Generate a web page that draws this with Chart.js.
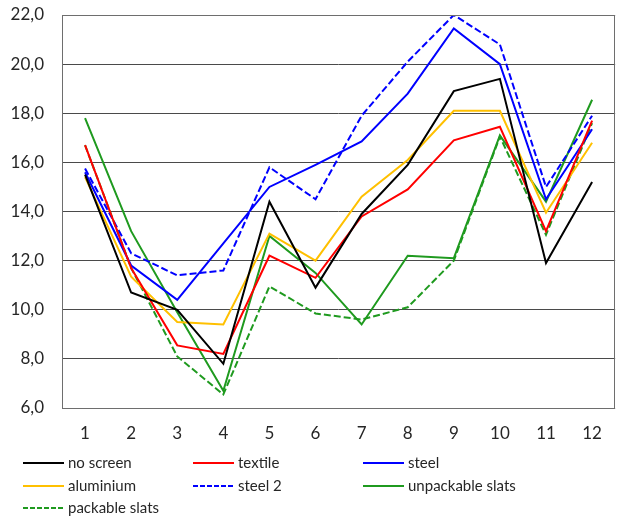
<!DOCTYPE html>
<html lang="en">
<head>
    <meta charset="UTF-8">
    <title>Chart</title>
    <style>
        body {
            margin: 0;
            background: #fff;
        }
        .wrap {
            width: 617px;
            height: 519px;
        }
    </style>
</head>
<body>
    <div class="wrap"><canvas id="myChart" width="617" height="519"></canvas></div>
</body>
<script src="https://cdn.jsdelivr.net/npm/chart.js@4.4.1/dist/chart.umd.min.js"></script>
<script>
// x categories
const labels = ['1', '2', '3', '4', '5', '6', '7', '8', '9', '10', '11', '12'];

// series values
const noScreen   = [15.5, 10.7, 10.0, 7.8, 14.4, 10.9, 13.9, 15.9, 18.9, 19.4, 11.9, 15.2];
const textile    = [16.7, 11.7, 8.55, 8.2, 12.2, 11.3, 13.8, 14.9, 16.9, 17.45, 13.2, 17.7];
const steel      = [15.6, 11.8, 10.4, 12.7, 15.0, 15.9, 16.85, 18.8, 21.45, 20.0, 14.5, 17.35];
const aluminium  = [15.4, 11.35, 9.5, 9.4, 13.1, 12.0, 14.6, 16.1, 18.1, 18.1, 13.95, 16.8];
const steel2     = [15.75, 12.3, 11.4, 11.6, 15.8, 14.5, 17.9, 20.1, 22.0, 20.8, 15.0, 17.9];
const unpackable = [17.8, 13.2, 9.9, 6.7, 13.0, 11.5, 9.4, 12.2, 12.1, 17.1, 14.4, 18.55];
const packable   = [16.7, 11.7, 8.1, 6.55, 10.95, 9.85, 9.6, 10.1, 12.0, 17.05, 13.05, 17.6];

// y axis
const yMin = 6, yMax = 22, yStep = 2;

const FONT = 'Lato, "Open Sans", sans-serif';

function line(label, data, color, dash) {
    return {
        label: label,
        data: data,
        borderColor: color,
        backgroundColor: color,
        borderWidth: 2,
        borderDash: dash || [],
        pointRadius: 0,
        tension: 0,
        fill: false
    };
}

// box round the plot + the 3-column legend at the bottom
const framePlugin = {
    id: 'frame',
    afterDraw(chart) {
        const ctx = chart.ctx;
        const a = chart.chartArea;
        ctx.save();
        ctx.strokeStyle = '#6e6e6e';
        ctx.lineWidth = 1;
        ctx.strokeRect(Math.round(a.left) + 0.5, Math.round(a.top) + 0.5,
            Math.round(a.right - a.left) - 1, Math.round(a.bottom - a.top));

        const colX = [23, 193, 363];
        const rowY = [463, 486, 508];
        ctx.font = '15px ' + FONT;
        ctx.textBaseline = 'middle';
        ctx.fillStyle = '#262626';
        chart.data.datasets.forEach((ds, i) => {
            const x = colX[i % 3], y = rowY[Math.floor(i / 3)];
            ctx.strokeStyle = ds.borderColor;
            ctx.lineWidth = 2;
            ctx.setLineDash(ds.borderDash.length ? [5, 2] : []);
            ctx.beginPath();
            ctx.moveTo(x, y);
            ctx.lineTo(x + 41, y);
            ctx.stroke();
            ctx.setLineDash([]);
            ctx.fillText(ds.label, x + 45, y);
        });
        ctx.restore();
    }
};

const ctx = document.getElementById('myChart').getContext('2d');
const myChart = new Chart(ctx, {
    type: 'line',
    data: {
        labels: labels,
        datasets: [
            line('no screen', noScreen, '#000000'),
            line('textile', textile, '#ff0000'),
            line('steel', steel, '#0000ff'),
            line('aluminium', aluminium, '#ffc000'),
            line('steel 2', steel2, '#0000ff', [7, 3]),
            line('unpackable slats', unpackable, '#1f9a1f'),
            line('packable slats', packable, '#1f9a1f', [7, 3])
        ]
    },
    options: {
        responsive: false,
        animation: false,
        layout: {
            padding: { top: 15, right: 1, bottom: 71, left: 0 }
        },
        plugins: {
            legend: { display: false },
            tooltip: { enabled: false }
        },
        scales: {
            x: {
                offset: true,
                grid: { display: false, drawTicks: false },
                border: { display: false },
                ticks: {
                    padding: 15,
                    color: '#262626',
                    font: { family: FONT, size: 17 },
                    maxRotation: 0
                },
                afterFit(scale) { scale.height = 40; }
            },
            y: {
                min: yMin,
                max: yMax,
                grid: { color: '#4a4a4a', lineWidth: 1, drawTicks: false },
                border: { display: false },
                ticks: {
                    stepSize: yStep,
                    padding: 18,
                    color: '#262626',
                    font: { family: FONT, size: 17 },
                    callback: (v) => v.toFixed(1).replace('.', ',')
                },
                afterFit(scale) {
                    scale.width = 62;
                    scale.paddingTop = 0;
                    scale.paddingBottom = 0;
                }
            }
        }
    },
    plugins: [framePlugin]
});
</script>
</html>
